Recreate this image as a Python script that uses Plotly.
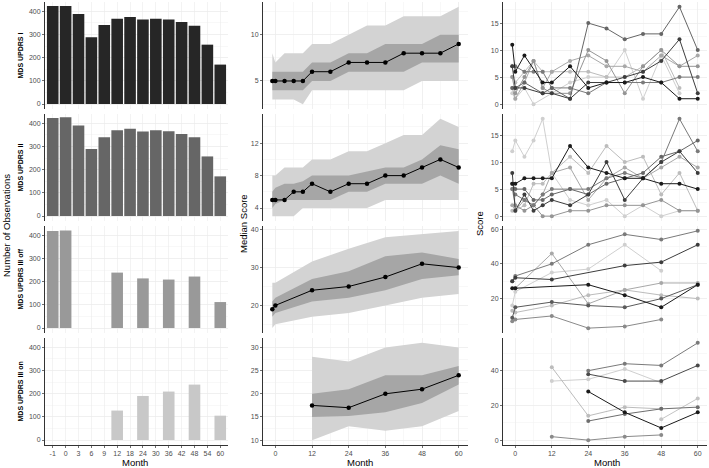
import plotly.graph_objects as go

W, H = 709, 468

# ---------------- data: number of observations (left column) ----------------
bar_months = ["-1", "0", "3", "6", "9", "12", "18", "24", "30", "36", "42", "48", "54", "60"]
n_updrs1 = [423, 423, 388, 288, 341, 368, 375, 365, 368, 365, 354, 338, 256, 170]
n_updrs2 = [423, 426, 390, 289, 340, 370, 376, 364, 370, 366, 354, 340, 257, 171]
n_updrs3off = [418, 421, None, None, None, 239, None, 214, None, 209, None, 222, None, 112]
n_updrs3on = [None, None, None, None, None, 127, None, 190, None, 209, None, 239, None, 105]

# ---------------- data: median score + bands (middle column) ----------------
months_all = [-1, 0, 3, 6, 9, 12, 18, 24, 30, 36, 42, 48, 54, 60]
med1 = [5, 5, 5, 5, 5, 6, 6, 7, 7, 7, 8, 8, 8, 9]
q25_1 = [4, 4, 4, 4, 4, 5, 5, 6, 6, 6, 6, 7, 7, 7]
q75_1 = [6, 6, 6, 6, 6, 7, 7, 8, 8, 9, 9, 9, 10, 10]
p10_1 = [3, 3, 3, 3, 2.5, 4, 4, 4, 4, 4, 4, 5, 5, 5]
p90_1 = [8, 7, 8, 8, 8, 9, 9, 10, 11, 11, 12, 12, 12, 13]

med2 = [5, 5, 5, 6, 6, 7, 6, 7, 7, 8, 8, 9, 10, 9]
q25_2 = [4, 4.5, 5, 5, 5, 5, 5, 6, 6, 7, 7, 7, 8, 7]
q75_2 = [6, 6.5, 7, 7, 7.3, 8, 8, 8, 8.5, 9, 9, 10, 11.75, 11.25]
p10_2 = [3, 3, 3, 3, 4, 4, 4, 4, 4, 5, 5, 5, 5, 5]
p90_2 = [8, 8, 9, 9, 9, 10, 10, 11, 11, 12, 13, 13, 15, 14]

months_off = [-1, 0, 12, 24, 36, 48, 60]
med3 = [19, 20, 24, 25, 27.5, 31, 30]
q25_3 = [17, 18, 21, 22, 24, 27, 28]
q75_3 = [21, 22, 27, 29, 33, 34, 32.3]
p10_3 = [14, 15, 17, 18, 20, 22, 23]
p90_3 = [26, 26, 31.6, 35, 38, 38.9, 39.7]

months_on = [12, 24, 36, 48, 60]
med4 = [17.5, 17, 20, 21, 24]
q25_4 = [15, 15.2, 16, 18, 22]
q75_4 = [20, 21, 24, 24, 26]
p10_4 = [10, 13, 12, 13, 16.3]
p90_4 = [28, 27, 30, 31, 30]

# ---------------- data: individual patients (right column) ----------------
pat_colors = ["#1a1a1a", "#3d3d3d", "#666666", "#7a7a7a", "#959595", "#a8a8a8", "#bcbcbc", "#cfcfcf"]

pat1_months = [
    [-1, 0, 3, 9, 12, 18, 24, 30, 36, 42, 48, 54, 60],
    [-1, 0, 3, 9, 12, 18, 24, 30, 36, 42, 48, 54, 60],
    [-1, 0, 3, 9, 12, 18, 24, 30, 36, 42, 48, 54, 60],
    [-1, 0, 3, 6, 9, 12, 18, 24, 30, 36, 42, 48, 54, 60],
    [-1, 0, 3, 6, 9, 12, 18, 24, 30, 36, 42, 48, 54, 60],
    [-1, 0, 3, 6, 9, 12, 18, 24, 30, 36, 42, 48, 54, 60],
    [-1, 0, 3, 6, 9, 12, 18, 24, 30, 36, 42, 48, 54],
    [-1, 0, 3, 6, 12, 18, 24, 30, 36, 42, 48, 54],
]
pat1_scores = [
    [11, 6, 9, 4, 4, 7, 3, 4, 4, 5, 4, 1, 1],
    [7, 3, 3, 2, 2, 1, 4, 4, 5, 6, 8, 12, 2],
    [3, 3, 4, 2, 3, 1, 15, 14, 12, 13, 13, 18, 10],
    [7, 7, 6, 6, 6, 3, 3, 2, 4, 4, 4, 4, 5, 5],
    [5, 2, 5, 8, 3, 2, 2, 10, 8, 2, 7, 10, 7, 7],
    [3, 1, 4, 8, 3, 6, 8, 9, 7, 7, 6, 9, 7, 9],
    [5, 4, 6, 8, 6, 6, 6, 6, 5, 5, 7, 10, 3],
    [2, 1, 3, 0, 2, 4, 5, 5, 10, 1, 9, 2],
]

pat2_months = [months_all] * 8
pat2_scores = [
    [6, 6, 7, 7, 7, 7, 13, 9, 8, 7, 7, 6, 6, 5],
    [8, 1, 4, 1, 2, 3, 2, 4, 10, 3, 7, 10, 12, 8],
    [6, 5, 5, 3, 3, 4, 5, 4, 6, 7, 8, 11, 12, 14],
    [5, 4, 3, 2, 4, 5, 5, 5, 7, 8, 7, 10, 18, 12],
    [5, 2, 1, 2, 0, 0, 1, 1, 2, 2, 2, 3, 1, 1],
    [2, 1, 3, 2, 4, 8, 9, 3, 7, 9, 7, 9, 11, 9],
    [1, 1, 2, 6, 6, 8, 11, 8, 13, 10, 11, 4, 8, 1],
    [12, 14, 11, 14, 18, 8, 3, 2, 3, 0, 2, 0, 1, 1],
]

pat3_months = [
    [-1, 0, 12, 24, 36, 48, 60],
    [-1, 0, 12, 36, 48, 60],
    [-1, 0, 12, 24, 36, 48],
    [0, 12, 24, 36, 48, 60],
    [-1, 0, 24, 36, 48, 60],
    [-1, 0, 12, 24, 36, 48, 60],
    [-1, 0, 12, 24, 36, 48, 60],
    [-1, 0, 12, 24, 36, 48],
]
pat3_scores = [
    [30, 33, 40, 51, 57, 54, 59],
    [30, 32, 31, 39, 41, 51],
    [16, 24, 35, 37, 51, 36],
    [26, 46, 17, 25, 29, 29],
    [26, 26, 28, 22, 15, 28],
    [9, 15, 18, 16, 15, 20, 28],
    [13, 12, 16, 22, 25, 22, 20],
    [7, 8, 10, 3, 4, 8],
]
pat3_colors = ["#7a7a7a", "#3d3d3d", "#cfcfcf", "#a8a8a8", "#1a1a1a", "#5a5a5a", "#bcbcbc", "#8a8a8a"]

pat4_months = [
    [24, 36, 48, 60],
    [24, 36, 48, 60],
    [12, 24, 36, 48],
    [12, 24, 36, 48],
    [24, 36, 48, 60],
    [24, 36, 48, 60],
    [48, 60],
    [12, 24, 36, 48],
]
pat4_scores = [
    [40, 44, 43, 56],
    [38, 34, 34, 43],
    [34, 35, 41, 33],
    [42, 14, 19, 18],
    [28, 16, 7, 16],
    [11, 15, 18, 19],
    [12, 24],
    [2, 0, 2, 3],
]
pat4_colors = ["#7a7a7a", "#4a4a4a", "#cfcfcf", "#bcbcbc", "#1a1a1a", "#6e6e6e", "#c4c4c4", "#8a8a8a"]

row_labels = ["MDS UPDRS I", "MDS UPDRS II", "MDS UPDRS III off", "MDS UPDRS III on"]
bar_colors = ["#262626", "#666666", "#999999", "#c8c8c8"]

# ---------------- layout geometry ----------------
cols_px = [(45, 228), (263, 468), (503, 707)]
rows_px = [(2, 109), (114, 221), (226, 333), (338, 445)]

FONT = "Liberation Sans, Arial, sans-serif"
TICKFONT = dict(family=FONT, size=7, color="#4d4d4d")
GRID = "#ebebeb"
MINOR = "#f4f4f4"

fig = go.Figure()
layout = dict(
    width=W, height=H, margin=dict(l=0, r=0, t=0, b=0),
    paper_bgcolor="white", plot_bgcolor="white", showlegend=False,
    font=dict(family=FONT, size=7, color="#4d4d4d"),
)


def ax_names(r, c):
    n = r * 3 + c + 1
    s = "" if n == 1 else str(n)
    return n, "xaxis" + s, "yaxis" + s, "x" + s, "y" + s


mid_y = [
    dict(range=[1.975, 13.525], tickvals=[5, 10], minor_d=2.5),
    dict(range=[2.4, 15.6], tickvals=[4, 8, 12], minor_d=2),
    dict(range=[12.7, 41.0], tickvals=[20, 30, 40], minor_d=5),
    dict(range=[8.95, 32.05], tickvals=[10, 15, 20, 25, 30], minor_d=2.5),
]
right_y = [
    dict(range=[-0.9, 18.9], tickvals=[0, 5, 10, 15], minor_d=2.5),
    dict(range=[-0.9, 18.9], tickvals=[0, 5, 10, 15], minor_d=2.5),
    dict(range=[0.2, 61.8], tickvals=[20, 40, 60], minor_d=10),
    dict(range=[-2.8, 58.8], tickvals=[0, 20, 40], minor_d=10),
]

for r in range(4):
    for c in range(3):
        n, xk, yk, xr, yr = ax_names(r, c)
        x0, x1 = cols_px[c]
        y0, y1 = rows_px[r]
        bottom = r == 3
        xa = dict(
            domain=[x0 / W, x1 / W], anchor=yr, showgrid=True, gridcolor=GRID, gridwidth=0.6,
            zeroline=False, showline=bottom, linecolor="#333333", linewidth=1,
            ticks="outside" if bottom else "", ticklen=2, tickwidth=0.7, tickcolor="#333333",
            showticklabels=bottom, tickfont=TICKFONT,
        )
        ya = dict(
            domain=[1 - y1 / H, 1 - y0 / H], anchor=xr, showgrid=True, gridcolor=GRID, gridwidth=0.6,
            zeroline=False, showline=True, linecolor="#333333", linewidth=1,
            ticks="outside", ticklen=2, tickwidth=0.7, tickcolor="#333333", tickfont=TICKFONT,
        )
        if c == 0:
            xa.update(range=[-0.6, 13.6], tickmode="array",
                      tickvals=list(range(len(bar_months))), ticktext=bar_months)
            ya.update(range=[-21.5, 440], tickmode="array", tickvals=[0, 100, 200, 300, 400],
                      minor=dict(showgrid=True, gridcolor=MINOR, dtick=50, tick0=0))
        else:
            spec = mid_y[r] if c == 1 else right_y[r]
            xa.update(range=[-4.05, 63.05], tickmode="array", tickvals=[0, 12, 24, 36, 48, 60],
                      minor=dict(showgrid=True, gridcolor=MINOR, dtick=6, tick0=0))
            ya.update(range=spec["range"], tickmode="array", tickvals=spec["tickvals"],
                      minor=dict(showgrid=True, gridcolor=MINOR, dtick=spec["minor_d"], tick0=0))
        layout[xk] = xa
        layout[yk] = ya

# ---------------- left column: bars ----------------
for r, vals in enumerate([n_updrs1, n_updrs2, n_updrs3off, n_updrs3on]):
    _, _, _, xr, yr = ax_names(r, 0)
    xs = [i for i, v in enumerate(vals) if v is not None]
    ys = [v for v in vals if v is not None]
    fig.add_trace(go.Bar(x=xs, y=ys, width=0.9, marker=dict(color=bar_colors[r], line=dict(width=0)),
                         xaxis=xr, yaxis=yr, hoverinfo="skip"))

# ---------------- middle column: bands + median ----------------
mid_sets = [
    (months_all, med1, q25_1, q75_1, p10_1, p90_1),
    (months_all, med2, q25_2, q75_2, p10_2, p90_2),
    (months_off, med3, q25_3, q75_3, p10_3, p90_3),
    (months_on, med4, q25_4, q75_4, p10_4, p90_4),
]
for r, (mx, md, lo, hi, plo, phi) in enumerate(mid_sets):
    _, _, _, xr, yr = ax_names(r, 1)
    fig.add_trace(go.Scatter(x=mx, y=plo, mode="lines", line=dict(width=0), xaxis=xr, yaxis=yr, hoverinfo="skip"))
    fig.add_trace(go.Scatter(x=mx, y=phi, mode="lines", line=dict(width=0), fill="tonexty",
                             fillcolor="#d3d3d3", xaxis=xr, yaxis=yr, hoverinfo="skip"))
    fig.add_trace(go.Scatter(x=mx, y=lo, mode="lines", line=dict(width=0), xaxis=xr, yaxis=yr, hoverinfo="skip"))
    fig.add_trace(go.Scatter(x=mx, y=hi, mode="lines", line=dict(width=0), fill="tonexty",
                             fillcolor="#a6a6a6", xaxis=xr, yaxis=yr, hoverinfo="skip"))
    fig.add_trace(go.Scatter(x=mx, y=md, mode="lines+markers", line=dict(color="black", width=1),
                             marker=dict(color="black", size=4.5), xaxis=xr, yaxis=yr, hoverinfo="skip"))

# ---------------- right column: patient trajectories ----------------
right_sets = [
    (pat1_months, pat1_scores, pat_colors),
    (pat2_months, pat2_scores, pat_colors),
    (pat3_months, pat3_scores, pat3_colors),
    (pat4_months, pat4_scores, pat4_colors),
]
for r, (pms, pss, cols) in enumerate(right_sets):
    _, _, _, xr, yr = ax_names(r, 2)
    order = sorted(range(len(pms)), key=lambda i: -int(cols[i][1:3], 16))
    for i in order:
        fig.add_trace(go.Scatter(x=pms[i], y=pss[i], mode="lines+markers",
                                 line=dict(color=cols[i], width=1), marker=dict(color=cols[i], size=4),
                                 xaxis=xr, yaxis=yr, hoverinfo="skip"))

# ---------------- text ----------------
ann = []
for r, lab in enumerate(row_labels):
    y0, y1 = rows_px[r]
    ann.append(dict(text="<b>" + lab + "</b>", x=20 / W, y=1 - (y0 + y1) / 2 / H, xref="paper", yref="paper",
                    textangle=-90, showarrow=False, font=dict(family=FONT, size=7, color="black"),
                    xanchor="center", yanchor="middle"))
ann.append(dict(text="Number of Observations", x=6 / W, y=1 - 226 / H, xref="paper", yref="paper",
                textangle=-90, showarrow=False, font=dict(family=FONT, size=9.5, color="black"),
                xanchor="center", yanchor="middle"))
ann.append(dict(text="Median Score", x=243 / W, y=1 - 224 / H, xref="paper", yref="paper",
                textangle=-90, showarrow=False, font=dict(family=FONT, size=9.5, color="black"),
                xanchor="center", yanchor="middle"))
ann.append(dict(text="Score", x=479 / W, y=1 - 223 / H, xref="paper", yref="paper",
                textangle=-90, showarrow=False, font=dict(family=FONT, size=9.5, color="black"),
                xanchor="center", yanchor="middle"))
for cx in [135, 360, 607]:
    ann.append(dict(text="Month", x=cx / W, y=1 - 462 / H, xref="paper", yref="paper",
                    showarrow=False, font=dict(family=FONT, size=9.5, color="black"),
                    xanchor="center", yanchor="middle"))
layout["annotations"] = ann

fig.update_layout(**layout)
fig.write_html("out.html", config={"displayModeBar": False, "staticPlot": True},
               post_script="document.body.style.margin='0';document.body.style.overflow='hidden';")
